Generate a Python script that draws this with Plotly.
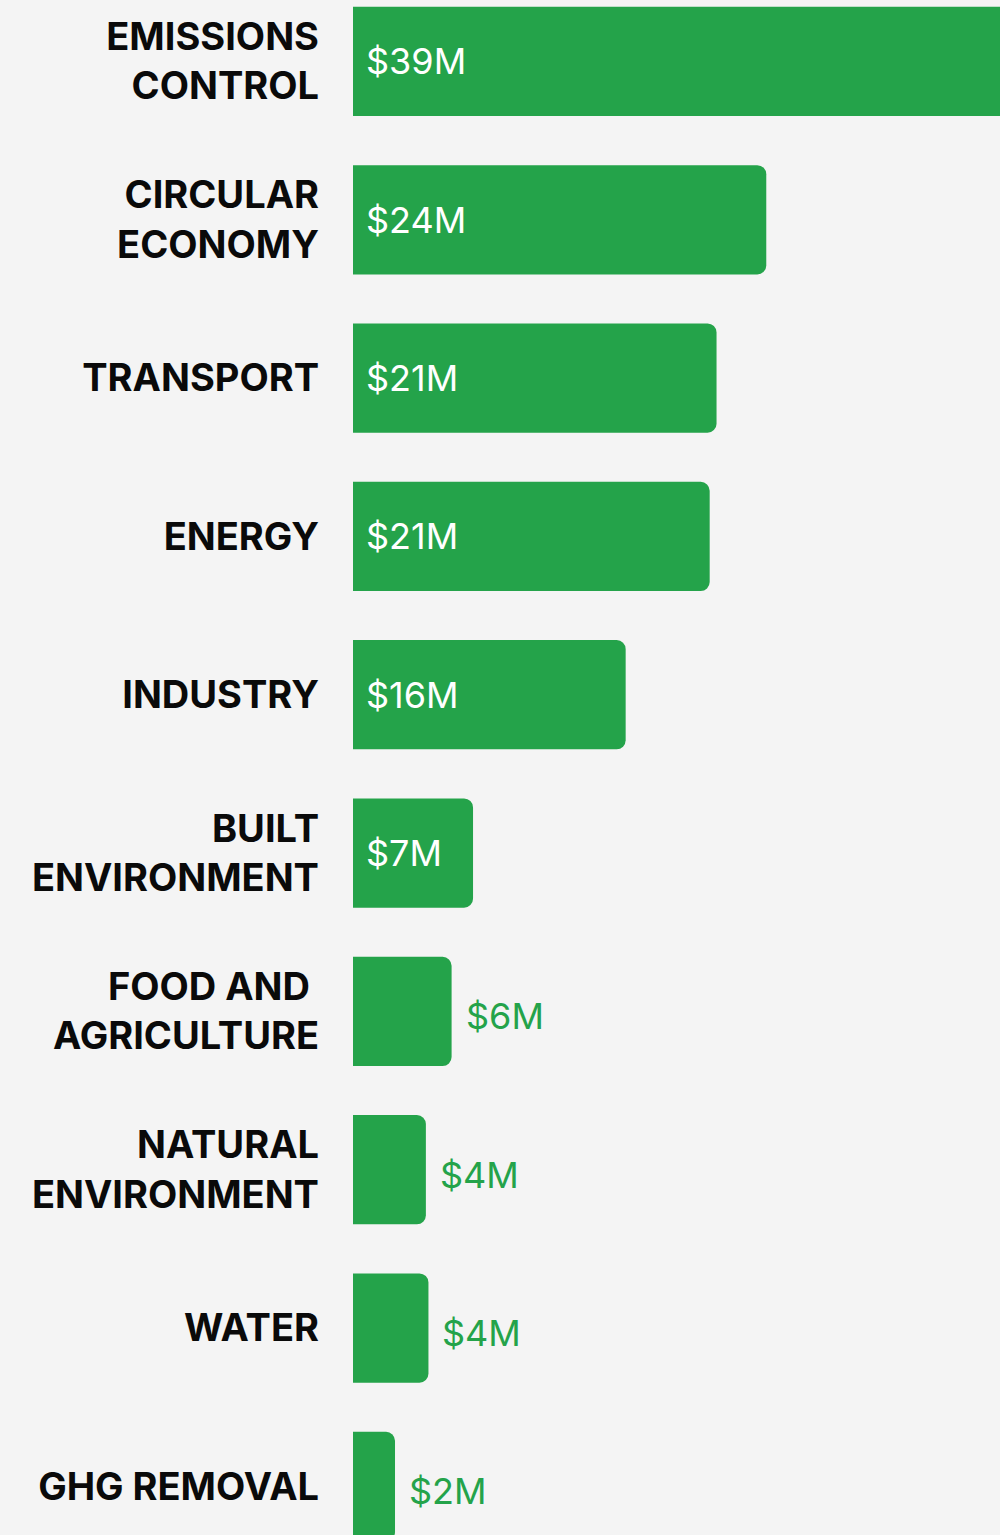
import plotly.graph_objects as go

categories = ["EMISSIONS<br>CONTROL", "CIRCULAR<br>ECONOMY", "TRANSPORT", "ENERGY", "INDUSTRY",
              "BUILT<br>ENVIRONMENT", "FOOD AND <br>AGRICULTURE", "NATURAL<br>ENVIRONMENT", "WATER",
              "GHG REMOVAL"]
values = [39.0, 24.1, 21.2, 20.8, 15.9, 7.0, 5.75, 4.25, 4.4, 2.45]
labels = ["$39M", "$24M", "$21M", "$21M", "$16M", "$7M", "$6M", "$4M", "$4M", "$2M"]
inside = [True, True, True, True, True, True, False, False, False, False]

GREEN = "#24A34A"
BG = "#F4F4F4"

fig = go.Figure()
fig.add_trace(go.Bar(
    x=values, y=categories, orientation="h",
    marker=dict(color=GREEN, cornerradius=9, line=dict(width=0)),
    width=0.69, hoverinfo="skip",
))

for i, (v, lab, ins) in enumerate(zip(values, labels, inside)):
    if ins:
        fig.add_annotation(x=0, y=categories[i], text=lab, xanchor="left", xshift=11,
                           showarrow=False, font=dict(family="Inter", size=36, color="white"))
    else:
        fig.add_annotation(x=v, y=categories[i], text=lab, xanchor="left", xshift=12, yshift=-5,
                           showarrow=False, font=dict(family="Inter", size=36, color=GREEN))

fig.update_layout(
    width=1000, height=1535,
    margin=dict(l=0, r=0, t=0, b=0),
    paper_bgcolor=BG, plot_bgcolor=BG,
    showlegend=False,
    hovermode=False,
    xaxis=dict(domain=[0.353, 1], range=[0, 37.73], visible=False, fixedrange=True),
    yaxis=dict(type="category", range=[9.307, -0.388], showgrid=False, zeroline=False,
               showline=False, ticks="", ticklabelstandoff=33, fixedrange=True,
               tickfont=dict(family="Inter", size=38, color="#0a0a0a", weight="bold")),
)

fig.write_html(
    "out.html",
    config={"displayModeBar": False, "staticPlot": True},
    post_script="document.body.style.margin='0';document.body.style.background='#F4F4F4';"
                "document.body.style.overflow='hidden';",
)
